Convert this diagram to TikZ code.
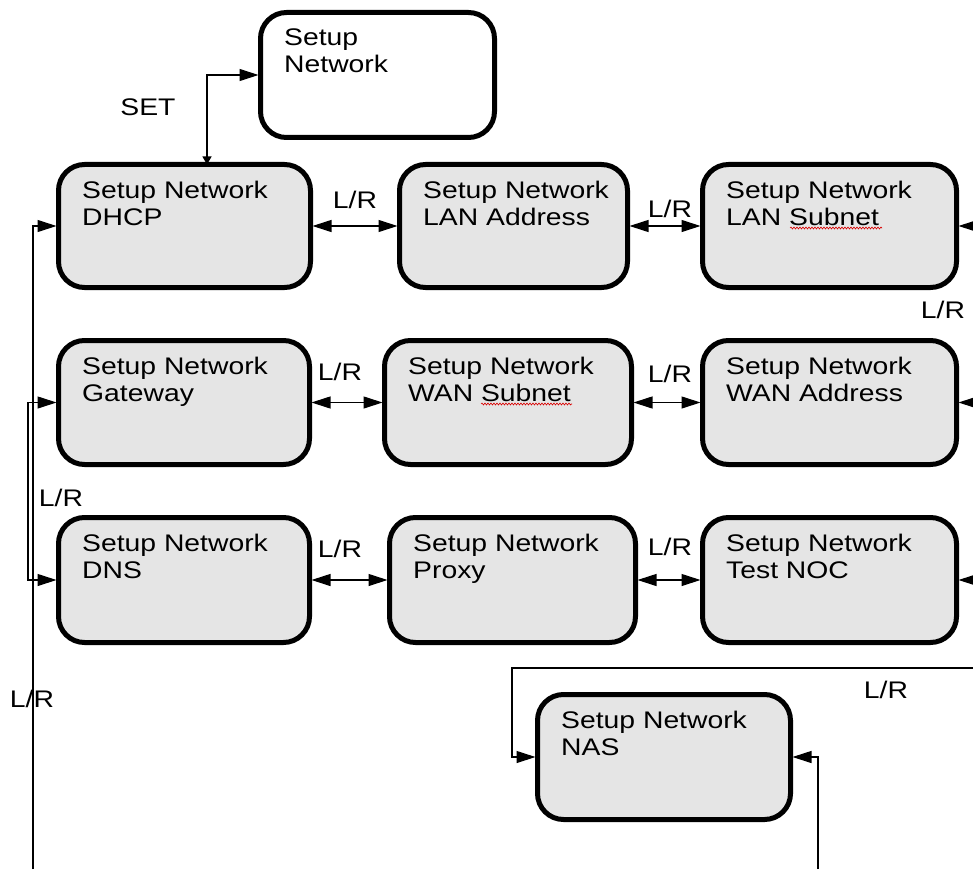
\documentclass[tikz,border=0pt]{standalone}
\usepackage{fontspec}
\setmainfont{Liberation Sans}
\usetikzlibrary{arrows.meta,decorations.pathmorphing}
\newcommand\sx[1]{\scalebox{1.18}[1]{#1}}
\begin{document}
\begin{tikzpicture}[x=1pt,y=-1pt,
  stbox/.style={draw, line width=5pt, rounded corners=26pt, inner sep=0pt, outer sep=0pt},
  txt/.style={font=\fontsize{24}{26.5}\selectfont, align=left, inner sep=0pt, anchor=north west},
  lbl/.style={font=\fontsize{24}{26}\selectfont, inner sep=0pt},
  conn/.style={line width=1.1pt},
  tip/.style={-{Triangle[length=19pt,width=12pt]}, shorten >=2pt},
  dtip/.style={{Triangle[length=19pt,width=12pt]}-{Triangle[length=19pt,width=12pt]}, shorten >=2pt, shorten <=2pt},
  spell/.style={red!85!black, line width=0.6pt, decorate, decoration={snake, amplitude=1pt, segment length=3pt}},
  ]
\useasboundingbox (0,0) rectangle (973,869);
\newcommand\bx[7][black!10]{%
  \node[stbox, fill=#1, minimum width={#5pt-#3pt-5pt}, minimum height={#6pt-#4pt-5pt}] (#2) at ({(#3+#5)/2},{(#4+#6)/2}) {};
  \node[txt] (#2t) at ({#3+26},{#4+19}) {#7};
}
% boxes
\bx[white]{top}{258}{10}{497}{140}{\sx{Setup}\\\sx{Network}}
\bx{dhcp}{56}{162}{313}{290}{\sx{Setup Network}\\\sx{DHCP}}
\bx{lana}{397}{162}{630}{290}{\sx{Setup Network}\\\sx{LAN Address}}
\bx{lans}{700}{162}{959}{290}{\sx{Setup Network}\\\sx{LAN Subnet}}
\bx{gw}{56}{338}{312}{467}{\sx{Setup Network}\\\sx{Gateway}}
\bx{wans}{382}{338}{634}{467}{\sx{Setup Network}\\\sx{WAN Subnet}}
\bx{wana}{700}{338}{959}{467}{\sx{Setup Network}\\\sx{WAN Address}}
\bx{dns}{56}{515}{312}{645}{\sx{Setup Network}\\\sx{DNS}}
\bx{proxy}{387}{515}{638}{645}{\sx{Setup Network}\\\sx{Proxy}}
\bx{noc}{700}{515}{959}{645}{\sx{Setup Network}\\\sx{Test NOC}}
\bx{nas}{535}{692}{793}{822}{\sx{Setup Network}\\\sx{NAS}}

% spell-check marks
\draw[spell] (790,228) -- (882,228);
\draw[spell] (481,404) -- (572,404);

% coordinates for free ends
\coordinate (sxc) at (207,0);
\coordinate (lb) at (33,869);
\coordinate (lb2) at (28,869);
\coordinate (rb) at (818,869);
\coordinate (re) at (973,668);
\coordinate (nl) at (512,668);
\coordinate (rs) at (973,0);

% SET connector
\draw[conn, {Triangle[length=8pt,width=9pt]}-{Triangle[length=19pt,width=12pt]}, shorten >=2pt] (sxc |- dhcp.north) |- (top);

% row connectors
\draw[conn,dtip] (dhcp) -- (lana);
\draw[conn,dtip] (lana) -- (lans);
\draw[conn,dtip] (gw) -- (wans);
\draw[conn,dtip] (wans) -- (wana);
\draw[conn,dtip] (dns) -- (proxy);
\draw[conn,dtip] (proxy) -- (noc);

% left bus
\draw[conn,tip] (lb) |- (dhcp);
\draw[conn,tip] (lb |- gw) -- (gw);
\draw[conn,tip] (lb |- dns) -- (dns);
\draw[conn] (lb |- gw) -- (lb2 |- gw) -- (lb2 |- dns) -- (lb |- dns);

% right stubs
\draw[conn,tip] (rs |- lans) -- (lans);
\draw[conn,tip] (rs |- wana) -- (wana);
\draw[conn,tip] (rs |- noc) -- (noc);

% NAS connectors
\draw[conn,tip] (re) -- (nl) |- (nas);
\draw[conn,tip] (rb) |- (nas);

% labels
\node[lbl] (lset) at (148,107) {\sx{SET}};
\node[lbl] (l1) at (355,200) {\sx{L/R}};
\node[lbl] (l2) at (670,209) {\sx{L/R}};
\node[lbl] (l3) at (340,372) {\sx{L/R}};
\node[lbl] (l4) at (670,374) {\sx{L/R}};
\node[lbl] (l5) at (340,549) {\sx{L/R}};
\node[lbl] (l6) at (670,547) {\sx{L/R}};
\node[lbl] (l7) at (61,498) {\sx{L/R}};
\node[lbl] (l8) at (32,699) {\sx{L/R}};
\node[lbl] (l9) at (943,310) {\sx{L/R}};
\node[lbl] (l10) at (886,690) {\sx{L/R}};
\end{tikzpicture}
\end{document}
